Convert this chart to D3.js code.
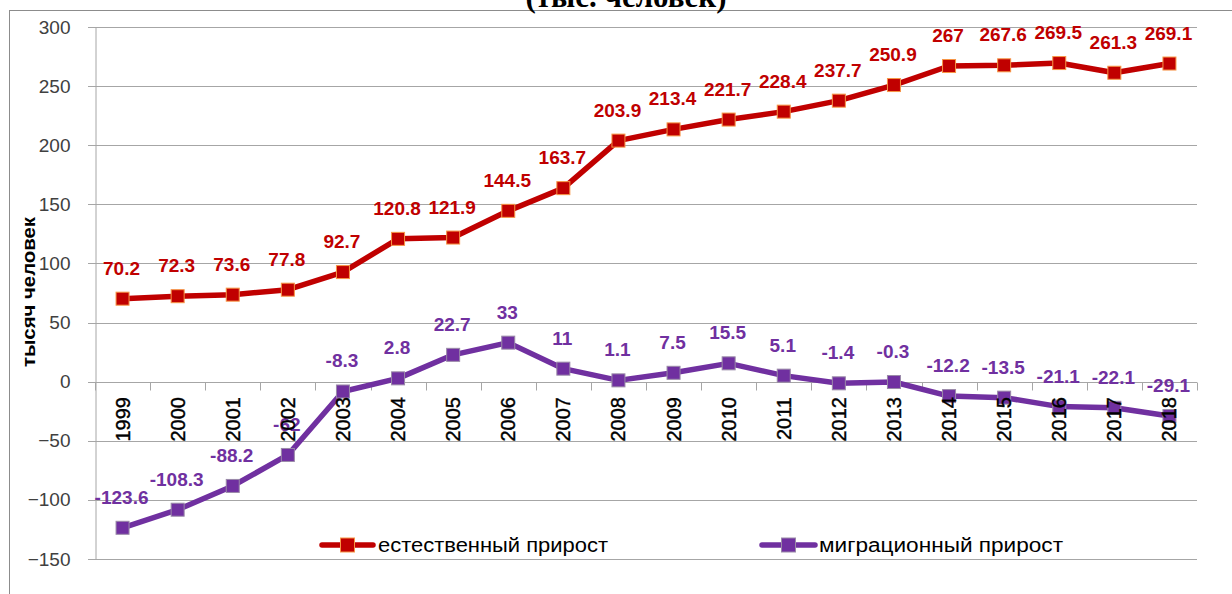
<!DOCTYPE html>
<html><head><meta charset="utf-8">
<script src="https://cdn.jsdelivr.net/npm/d3@7"></script>
<style>html,body{margin:0;padding:0;background:#fff;}svg{display:block;}</style>
</head><body>
<script>
const years = ["1999","2000","2001","2002","2003","2004","2005","2006","2007","2008","2009","2010","2011","2012","2013","2014","2015","2016","2017","2018"];
const natural = [70.2,72.3,73.6,77.8,92.7,120.8,121.9,144.5,163.7,203.9,213.4,221.7,228.4,237.7,250.9,267,267.6,269.5,261.3,269.1];
const migration = [-123.6,-108.3,-88.2,-62,-8.3,2.8,22.7,33,11,1.1,7.5,15.5,5.1,-1.4,-0.3,-12.2,-13.5,-21.1,-22.1,-29.1];
const yTicks = [300,250,200,150,100,50,0,-50,-100,-150];
const seriesNames = ["естественный прирост","миграционный прирост"];
const titleText = "(тыс. человек)";
const yLabel = "тысяч человек";

const W = 1232, H = 594;
const svg = d3.select("body").append("svg").attr("width", W).attr("height", H);

const x = d3.scaleBand().domain(years).range([95, 1197]);
const y = d3.scaleLinear().domain([-150, 300]).range([559, 27]);

// outer frame
svg.append("rect").attr("x", 9.5).attr("y", 10.5).attr("width", W).attr("height", H)
  .attr("fill", "none").attr("stroke", "#8c8c8c").attr("stroke-width", 1);

// title (cut at top, as in the reference)
svg.append("text").attr("x", 626).attr("y", 7).attr("text-anchor", "middle")
  .attr("font-family", "Liberation Serif").attr("font-weight", "bold").attr("font-size", 31)
  .attr("fill", "#000").text(titleText);

// gridlines
svg.append("g").selectAll("line").data(yTicks).join("line")
  .attr("x1", 88).attr("x2", 1197)
  .attr("y1", d => Math.round(y(d)) + 0.5).attr("y2", d => Math.round(y(d)) + 0.5)
  .attr("stroke", "#a6a6a6").attr("stroke-width", 1);

// y axis
const yAxis = svg.append("g").attr("transform", "translate(95.5,0)")
  .call(d3.axisLeft(y).tickValues(yTicks).tickSize(0).tickPadding(25));
yAxis.select(".domain").attr("stroke", "#a6a6a6");
yAxis.selectAll("text").attr("font-family", "Liberation Sans").attr("font-size", 19).attr("fill", "#404040");

// x axis at zero
const x0 = Math.round(y(0)) + 0.5;
svg.append("line").attr("x1", 95).attr("x2", 1197).attr("y1", x0).attr("y2", x0).attr("stroke", "#a6a6a6");
svg.append("g").selectAll("line").data(years.concat(["end"])).join("line")
  .attr("x1", (d, i) => Math.round(95 + i * x.bandwidth()) + 0.5)
  .attr("x2", (d, i) => Math.round(95 + i * x.bandwidth()) + 0.5)
  .attr("y1", x0).attr("y2", x0 + 8).attr("stroke", "#a6a6a6");

// y label
svg.append("text").attr("transform", "translate(35,292) rotate(-90)").attr("text-anchor", "middle")
  .attr("font-family", "Liberation Sans").attr("font-weight", "bold").attr("font-size", 18)
  .attr("textLength", 150).attr("lengthAdjust", "spacingAndGlyphs")
  .attr("fill", "#000").text(yLabel);

const cx = d => x(d) + x.bandwidth() / 2;

function drawSeries(vals, color, markerStroke) {
  const line = d3.line().x((d, i) => cx(years[i])).y(d => y(d));
  svg.append("path").datum(vals).attr("d", line).attr("fill", "none")
    .attr("stroke", color).attr("stroke-width", 5.5).attr("stroke-linejoin", "round");
  svg.append("g").selectAll("rect").data(vals).join("rect")
    .attr("x", (d, i) => cx(years[i]) - 6.5).attr("y", d => y(d) - 6.5)
    .attr("width", 13).attr("height", 13).attr("fill", color)
    .attr("stroke", markerStroke).attr("stroke-width", 1);
}
drawSeries(natural, "#c00000", "#f79646");
drawSeries(migration, "#7030a0", "#9a8aa8");

function drawLabels(vals, color) {
  svg.append("g").selectAll("text").data(vals).join("text")
    .attr("x", (d, i) => cx(years[i]) - 1).attr("y", d => y(d) - 24)
    .attr("text-anchor", "middle").attr("font-family", "Liberation Sans").attr("font-weight", "bold")
    .attr("font-size", 19).attr("fill", color).text(d => d);
}
drawLabels(natural, "#c00000");
drawLabels(migration, "#7030a0");

// x labels
svg.append("g").selectAll("text").data(years).join("text")
  .attr("transform", d => `translate(${cx(d) + 7},397) rotate(-90)`)
  .attr("text-anchor", "end").attr("font-family", "Liberation Sans").attr("font-size", 20)
  .attr("fill", "#000").attr("stroke", "#000").attr("stroke-width", 0.4).text(d => d);

// legend
const legend = [
  {name: seriesNames[0], color: "#c00000", ms: "#f79646", x1: 322, x2: 373, tx: 378, tw: 230},
  {name: seriesNames[1], color: "#7030a0", ms: "#9a8aa8", x1: 762, x2: 815, tx: 819, tw: 244}
];
const lg = svg.append("g").selectAll("g").data(legend).join("g");
lg.append("line").attr("x1", d => d.x1).attr("x2", d => d.x2).attr("y1", 545).attr("y2", 545)
  .attr("stroke", d => d.color).attr("stroke-width", 5.5).attr("stroke-linecap", "round");
lg.append("rect").attr("x", d => (d.x1 + d.x2) / 2 - 7).attr("y", 538).attr("width", 14).attr("height", 14)
  .attr("fill", d => d.color).attr("stroke", d => d.ms);
lg.append("text").attr("x", d => d.tx).attr("y", 552).attr("font-family", "Liberation Sans")
  .attr("font-size", 20).attr("fill", "#000").attr("textLength", d => d.tw)
  .attr("lengthAdjust", "spacingAndGlyphs").text(d => d.name);
</script>
</body></html>
